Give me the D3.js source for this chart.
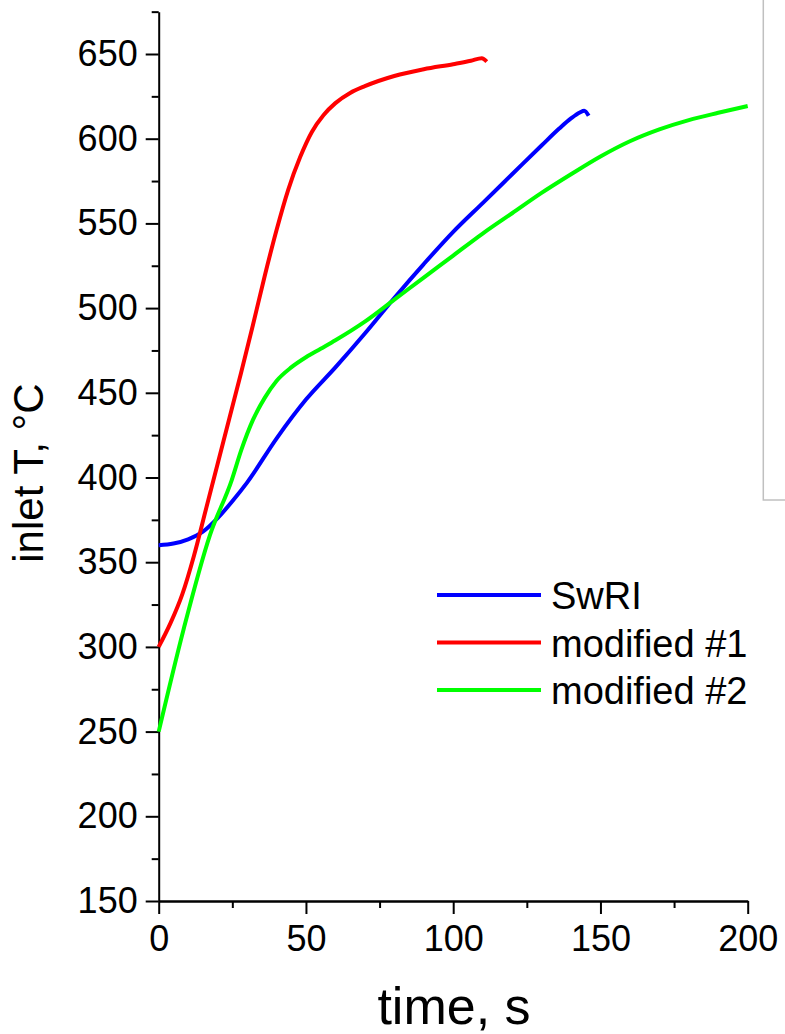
<!DOCTYPE html>
<html>
<head>
<meta charset="utf-8">
<script src="https://cdn.jsdelivr.net/npm/d3@7"></script>
<style>
  body { margin: 0; background: #fff; }
  svg { display: block; font-family: "Liberation Sans", Arial, sans-serif; }
</style>
</head>
<body>
<div id="chart"></div>
<script>
// time (s) and inlet temperature (°C)
var swriTime = [0, 5, 10, 15, 20, 25, 30, 40, 50, 60, 70, 80, 90, 100, 110, 120, 130, 136, 140, 143, 144.5, 146];
var swriTemp = [360, 361, 363.5, 368, 376, 386, 397, 423, 446, 465, 485, 506, 526, 545, 562, 579, 596, 606, 612, 615.5, 616.5, 613.5];

var mod1Time = [0, 4, 8, 12, 16, 20, 24, 28, 32, 36, 40, 44, 48, 52, 56, 60, 65, 70, 80, 90, 100, 106, 109.7, 111.4];
var mod1Temp = [300, 314, 331, 354, 381, 408, 435, 462, 490, 519, 546, 570, 589, 604, 614, 621, 627, 631, 637, 641, 644, 646, 647.5, 645.5];

var mod2Time = [0, 8.4, 17.4, 24.8, 28, 32, 36, 40, 45, 50, 55, 60, 70, 80, 90, 100, 110, 120, 130, 140, 150, 160, 170, 180, 190, 200];
var mod2Temp = [250, 310, 366, 398.5, 416, 434, 447, 457, 465, 471, 476, 481, 492, 505, 518, 531, 544, 556, 568, 579, 589.5, 598.5, 605.5, 611, 615.3, 619.3];

var seriesNames = ["SwRI", "modified #1", "modified #2"];
var seriesColors = ["#0000ff", "#ff0000", "#00ff00"];

var xTicks = [0, 50, 100, 150, 200];
var xMinor = [25, 75, 125, 175];
var yTicks = [150, 200, 250, 300, 350, 400, 450, 500, 550, 600, 650];
var yMinor = [175, 225, 275, 325, 375, 425, 475, 525, 575, 625, 675];

var width = 785,
    height = 1034;

var x = d3.scaleLinear().domain([0, 200]).range([158.7, 747.7]);
var y = d3.scaleLinear().domain([150, 650]).range([901, 54]);

var svg = d3.select("#chart").append("svg")
    .attr("width", width)
    .attr("height", height);

// grey frame cut off at the right edge
svg.append("rect")
    .attr("x", 763.3)
    .attr("y", -10)
    .attr("width", 60)
    .attr("height", 510)
    .attr("fill", "none")
    .attr("stroke", "#c0c0c0")
    .attr("stroke-width", 1.5);

// minor ticks first
svg.append("g")
    .attr("transform", "translate(0," + y(150) + ")")
    .call(d3.axisBottom(x).tickValues(xMinor).tickSize(7).tickSizeOuter(0).tickFormat(""))
    .call(styleAxis);

svg.append("g")
    .attr("transform", "translate(" + x(0) + ",0)")
    .call(d3.axisLeft(y.copy().domain([150, 675]).range([901, y(675)])).tickValues(yMinor).tickSize(7).tickSizeOuter(0).tickFormat(""))
    .call(styleAxis);

var xAxis = svg.append("g")
    .attr("transform", "translate(0," + y(150) + ")")
    .call(d3.axisBottom(x).tickValues(xTicks).tickSize(13).tickPadding(11).tickSizeOuter(0))
    .call(styleAxis);

var yAxis = svg.append("g")
    .attr("transform", "translate(" + x(0) + ",0)")
    .call(d3.axisLeft(y).tickValues(yTicks).tickSize(13).tickPadding(8).tickSizeOuter(0))
    .call(styleAxis);

yAxis.select(".domain").remove();

function styleAxis(g) {
  g.selectAll("path, line").attr("stroke", "#000").attr("stroke-width", 2);
  g.selectAll("text").attr("font-size", 36).attr("fill", "#000")
    .attr("font-family", "Liberation Sans, Arial, sans-serif");
}

var line = d3.line()
    .x(function(d) { return x(d[0]); })
    .y(function(d) { return y(d[1]); })
    .curve(d3.curveMonotoneX);

var series = [
  d3.zip(swriTime, swriTemp),
  d3.zip(mod1Time, mod1Temp),
  d3.zip(mod2Time, mod2Temp)
];

svg.selectAll(".series")
    .data(series)
  .enter().append("path")
    .attr("class", "series")
    .attr("d", line)
    .attr("fill", "none")
    .attr("stroke", function(d, i) { return seriesColors[i]; })
    .attr("stroke-width", 4)
    .attr("stroke-linejoin", "round");

// legend
var legend = svg.selectAll(".legend")
    .data(seriesNames)
  .enter().append("g")
    .attr("class", "legend")
    .attr("transform", function(d, i) { return "translate(437," + (595 + i * 47.5) + ")"; });

legend.append("line")
    .attr("x1", 0).attr("x2", 104)
    .attr("stroke", function(d, i) { return seriesColors[i]; })
    .attr("stroke-width", 4);

legend.append("text")
    .attr("x", 114)
    .attr("y", 14)
    .attr("font-size", 38)
    .text(function(d) { return d; });

// axis titles
svg.append("text")
    .attr("x", 454)
    .attr("y", 1024)
    .attr("text-anchor", "middle")
    .attr("font-size", 52)
    .text("time, s");

svg.append("text")
    .attr("transform", "translate(43,473)rotate(-90)")
    .attr("text-anchor", "middle")
    .attr("font-size", 42)
    .text("inlet T, °C");
</script>
</body>
</html>
